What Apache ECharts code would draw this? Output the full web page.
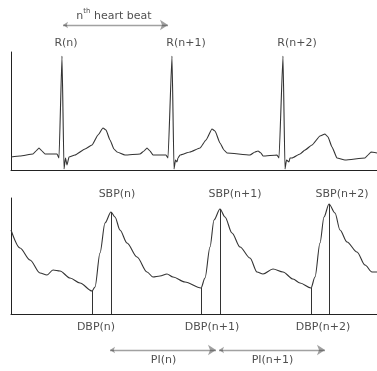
<!DOCTYPE html>
<html>
<head>
<meta charset="utf-8">
<script src="https://cdn.jsdelivr.net/npm/echarts@6/dist/echarts.min.js"></script>
<style>
  html, body { margin: 0; padding: 0; background: #fff; }
  #chart { width: 377px; height: 371px; }
</style>
</head>
<body>
<div id="chart"></div>
<script>
// ECG trace, [time, amplitude]
const ecg = [
  [0,13],[9,14],[22,16],[25,19],[28,22],[31,19],[34,16],[46,16],[48,12],[51,114],[53,1],[54.5,12],[56,5],[58,13],
  [64,15],[74,21],[81,25],[87,35],[92,42],[95,40],[99,30],[103,21],[106,18],[114,15],[129,16],[133,19],[136,22],
  [139,19],[142,15],[155,15],[157,12],[161,114],[163,1],[164.5,10],[166,8],[167,12],[169,15],[179,18],[189,22],
  [195,30],[201,41],[204,39],[209,27],[213,20],[216,17],[239,15],[244,18],[247,19],[250,17],[252,14],[266,15],
  [268,12],[272,114],[274,1],[275.5,10],[278,8],[279,12],[281,12],[289,16],[294,20],[301,25],[309,34],[314,36],
  [317,33],[321,23],[326,12],[334,10],[354,12],[357,15],[360,18],[366,17]
];
// arterial blood pressure trace, [time, pressure]
const bp = [
  [0,84],[9,66],[19,54],[29,41],[36,39],[42,44],[49,43],[59,36],[69,31],[81,23],[84,27],[89,61],[94,91],[100,102],
  [104,97],[109,84],[116,71],[126,57],[136,42],[142,37],[149,38],[156,40],[162,37],[174,32],[190,26],[194,36],
  [199,67],[203,94],[209,105],[214,97],[221,81],[229,67],[239,56],[246,42],[252,40],[262,45],[272,42],[282,35],
  [289,31],[300,26],[304,37],[309,71],[313,97],[318,110],[324,101],[329,84],[336,72],[346,62],[354,49],[361,42],[366,42]
];
const rTimes = [51, 161, 272];
const rNames = ['R(n)', 'R(n+1)', 'R(n+2)'];
const sbpTimes = [100, 209, 318];
const sbpNames = ['SBP(n)', 'SBP(n+1)', 'SBP(n+2)'];
const dbpTimes = [81, 190, 300];
const dbpNames = ['DBP(n)', 'DBP(n+1)', 'DBP(n+2)'];
const piNames = ['PI(n)', 'PI(n+1)'];

const valAt = (arr, t) => arr.find(p => p[0] === t)[1];
const ink = '#333';
const txt = { color: '#222', fontFamily: 'DejaVu Sans', fontSize: 11 };

const chart = echarts.init(document.getElementById('chart'));

const axisX = (gi) => ({
  type: 'value', gridIndex: gi, min: 0, max: 366,
  axisLine: { show: true, onZero: false, lineStyle: { color: '#222', width: 1 } },
  axisTick: { show: false }, axisLabel: { show: false }, splitLine: { show: false }
});
const axisY = (gi, max) => ({
  type: 'value', gridIndex: gi, min: 0, max: max,
  axisLine: { show: true, lineStyle: { color: '#222', width: 1 } },
  axisTick: { show: false }, axisLabel: { show: false }, splitLine: { show: false }
});

const arrowStyle = { color: '#444', width: 1.3 };
// text-only points (no marker)
const textSeries = (gi, data, pos, dist) => ({
  type: 'scatter', xAxisIndex: gi, yAxisIndex: gi, symbolSize: 0, clip: false, data: data,
  label: { show: true, position: pos, distance: dist, formatter: '{b}', ...txt }
});

const option = {
  animation: false,
  backgroundColor: '#fff',
  grid: [
    { left: 11, right: 0, top: 52, height: 118 },
    { left: 11, right: 0, top: 198, height: 116 }
  ],
  xAxis: [axisX(0), axisX(1)],
  yAxis: [axisY(0, 118), axisY(1, 116)],
  series: [
    {
      type: 'line', xAxisIndex: 0, yAxisIndex: 0, data: ecg,
      showSymbol: false, smooth: 0.15, smoothMonotone: 'x',
      lineStyle: { color: ink, width: 1.1 }
    },
    textSeries(0, rTimes.map((t, i) => ({ name: rNames[i], value: [t + [4, 14, 14][i], valAt(ecg, t)] })), 'top', 7),
    // heart beat arrow
    {
      type: 'lines', coordinateSystem: 'cartesian2d', xAxisIndex: 0, yAxisIndex: 0, clip: false,
      symbol: ['arrow', 'arrow'], symbolSize: [5, 8], lineStyle: arrowStyle,
      data: [{ coords: [[rTimes[0] + 1, 145], [rTimes[1] - 4, 145]] }]
    },
    {
      type: 'scatter', xAxisIndex: 0, yAxisIndex: 0, symbolSize: 0, clip: false,
      data: [{ name: 'n', value: [(rTimes[0] + rTimes[1]) / 2 - 3, 145] }],
      label: {
        show: true, position: 'top', distance: 3,
        formatter: '{n|n}{s|th}{t| heart beat}',
        rich: {
          n: { ...txt, verticalAlign: 'bottom', lineHeight: 14 },
          s: { ...txt, fontSize: 7, verticalAlign: 'top', lineHeight: 14 },
          t: { ...txt, verticalAlign: 'bottom', lineHeight: 14 }
        }
      }
    },
    {
      type: 'line', xAxisIndex: 1, yAxisIndex: 1, data: bp,
      showSymbol: false, smooth: 0.3, smoothMonotone: 'x',
      lineStyle: { color: ink, width: 1.1 },
      markLine: {
        silent: true, symbol: 'none', label: { show: false },
        lineStyle: { color: ink, width: 1, type: 'solid' },
        data: sbpTimes.concat(dbpTimes).map(t => [{ coord: [t, 0] }, { coord: [t, valAt(bp, t)] }])
      }
    },
    // pulse interval arrows
    {
      type: 'lines', coordinateSystem: 'cartesian2d', xAxisIndex: 1, yAxisIndex: 1, clip: false,
      symbol: ['arrow', 'arrow'], symbolSize: [5, 8], lineStyle: arrowStyle,
      data: piNames.map((nm, i) => ({ coords: [[sbpTimes[i] - 1, -36], [sbpTimes[i + 1] - 4, -36]] }))
    },
    textSeries(1, piNames.map((nm, i) => ({ name: nm, value: [(sbpTimes[i] + sbpTimes[i + 1]) / 2 - 2, -36] })), 'bottom', 5),
    textSeries(1, sbpTimes.map((t, i) => ({ name: sbpNames[i], value: [t + [6, 15, 13][i], 120] })), 'inside', 0),
    textSeries(1, dbpTimes.map((t, i) => ({ name: dbpNames[i], value: [t + [4, 11, 12][i], 0] })), 'bottom', 8)
  ]
};

chart.setOption(option);
</script>
</body>
</html>
